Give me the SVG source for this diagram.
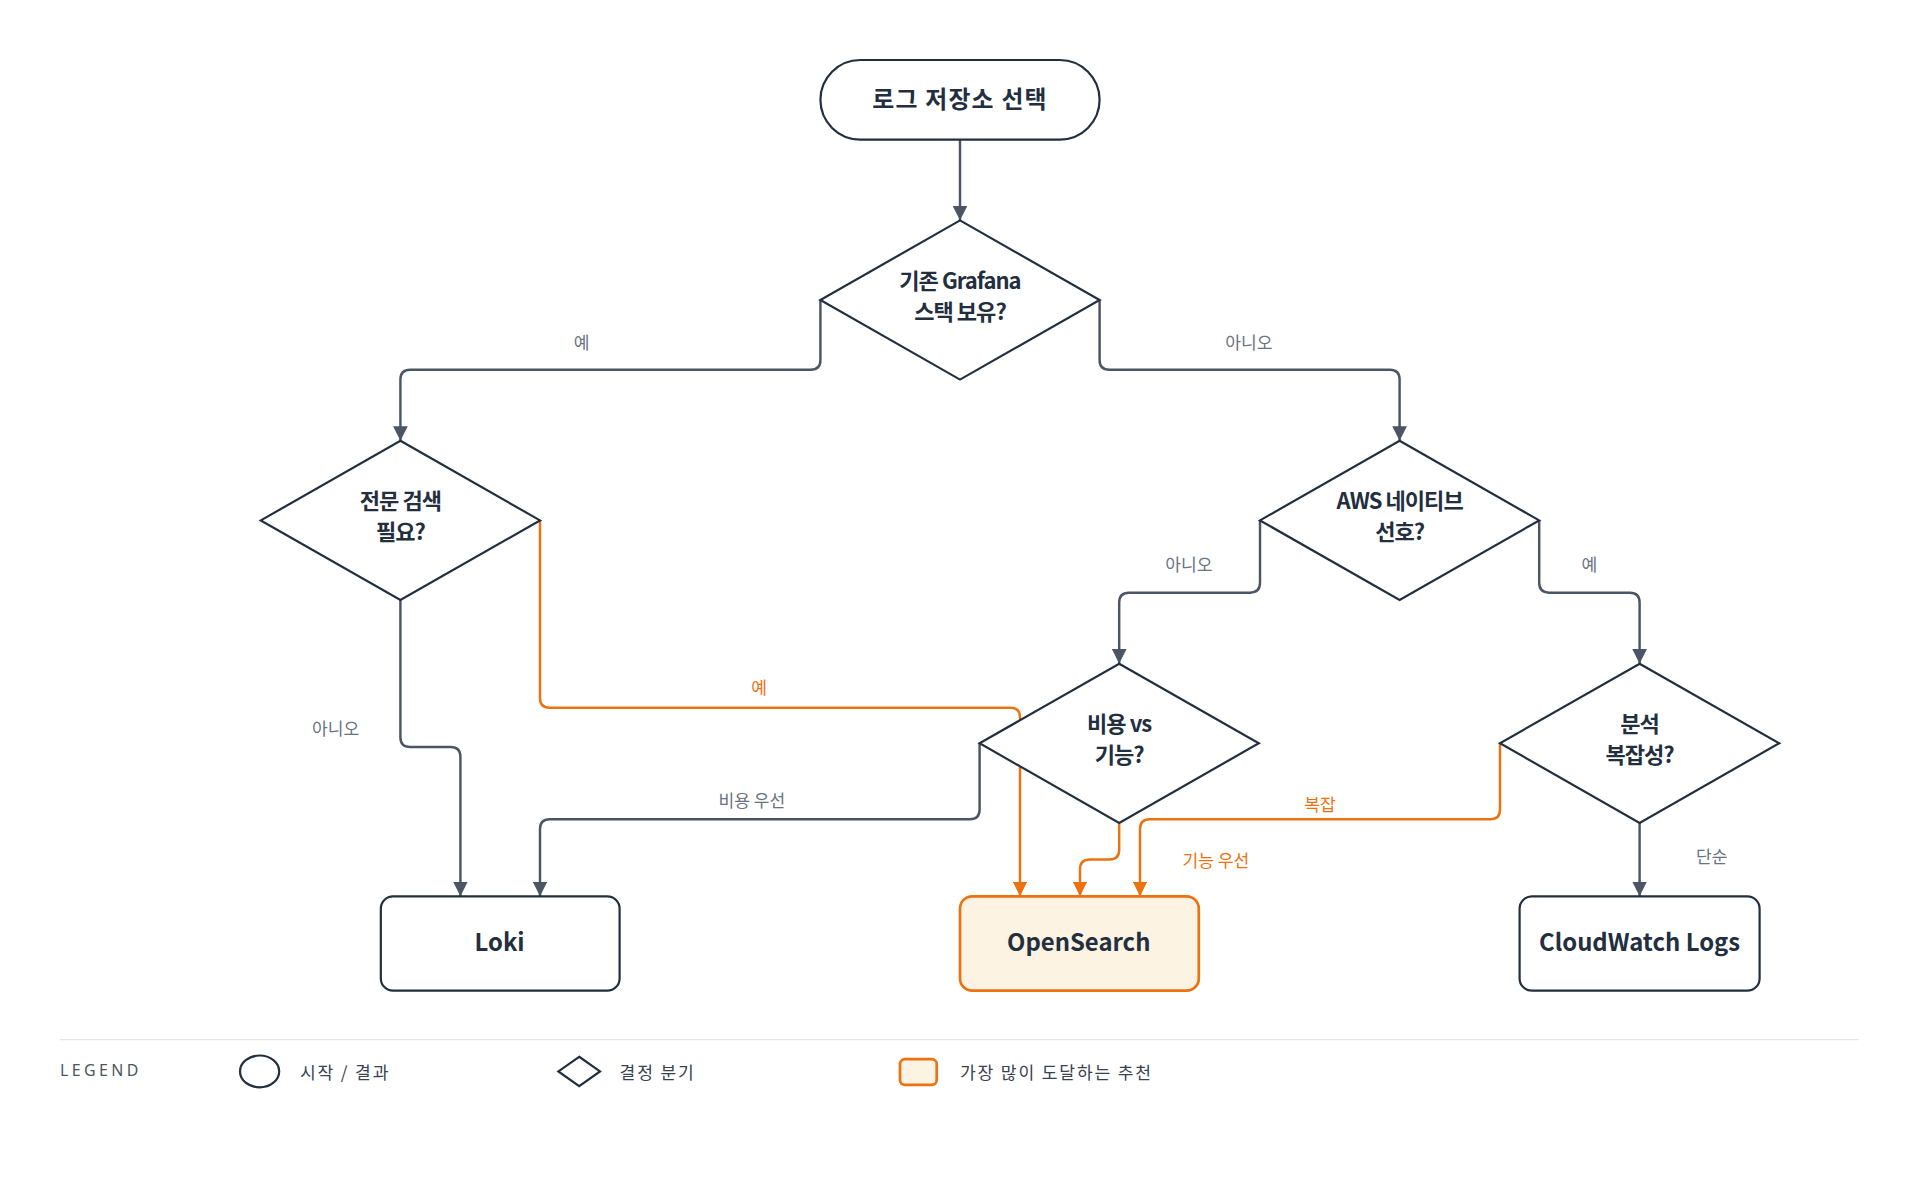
<svg xmlns="http://www.w3.org/2000/svg" width="1920" height="1200" viewBox="0 0 1920 1200">
<defs>
<style>
.n{fill:#fff;stroke:#232f3e;stroke-width:1.8}
.hl{fill:#fdf3e3;stroke:#ec7211;stroke-width:2.2}
.t{font-family:"Noto Sans CJK KR","Noto Sans",sans-serif;font-weight:700;font-size:18px;fill:#232f3e;text-anchor:middle;letter-spacing:-0.8px}
.b{font-size:19.5px;letter-spacing:0}
.c{fill:none;stroke:#4b5563;stroke-width:2}
.o{fill:none;stroke:#ec7211;stroke-width:2}
.l{font-family:"Noto Sans CJK KR","Noto Sans",sans-serif;font-size:14px;fill:#6b7280;text-anchor:middle}
.lo{fill:#ec7211}
.lg{font-family:"Noto Sans CJK KR","Noto Sans",sans-serif;font-size:14px;fill:#374151;letter-spacing:1.5px}
</style>
<marker id="ag" markerUnits="userSpaceOnUse" markerWidth="12" markerHeight="12" refX="12" refY="6" orient="auto" viewBox="0 0 12 12"><path d="M0,0 L12,6 L0,12 z" fill="#4b5563"/></marker>
<marker id="ao" markerUnits="userSpaceOnUse" markerWidth="12" markerHeight="12" refX="12" refY="6" orient="auto" viewBox="0 0 12 12"><path d="M0,0 L12,6 L0,12 z" fill="#ec7211"/></marker>
</defs>
<rect width="1920" height="1200" fill="#fff"/>
<g transform="scale(1.2245)">
<g id="connectors">
<path class="c" marker-end="url(#ag)" d="M784,114 V180"/>
<path class="c" marker-end="url(#ag)" d="M670,245 V294 Q670,302 662,302 H335 Q327,302 327,310 V360"/>
<path class="c" marker-end="url(#ag)" d="M898,245 V294 Q898,302 906,302 H1135 Q1143,302 1143,310 V360"/>
<path class="c" marker-end="url(#ag)" d="M327,490 V602 Q327,610 335,610 H368 Q376,610 376,618 V732"/>
<path class="o" marker-end="url(#ao)" d="M441,425 V570 Q441,578 449,578 H825 Q833,578 833,586 V732"/>
<path class="c" marker-end="url(#ag)" d="M1029,425 V476 Q1029,484 1021,484 H922 Q914,484 914,492 V542"/>
<path class="c" marker-end="url(#ag)" d="M1257,425 V476 Q1257,484 1265,484 H1331 Q1339,484 1339,492 V542"/>
<path class="c" marker-end="url(#ag)" d="M800,607 V661 Q800,669 792,669 H449 Q441,669 441,677 V732"/>
<path class="o" marker-end="url(#ao)" d="M914,672 V694 Q914,702 906,702 H890 Q882,702 882,710 V732"/>
<path class="o" marker-end="url(#ao)" d="M1225,607 V661 Q1225,669 1217,669 H939 Q931,669 931,677 V732"/>
<path class="c" marker-end="url(#ag)" d="M1339,672 V732"/>
<text class="l" x="475" y="285">예</text>
<text class="l" x="1020" y="285">아니오</text>
<text class="l" x="274" y="600">아니오</text>
<text class="l lo" x="620" y="567">예</text>
<text class="l" x="971" y="466">아니오</text>
<text class="l" x="1298" y="466">예</text>
<text class="l" x="614" y="659">비용 우선</text>
<text class="l lo" x="993" y="708">기능 우선</text>
<rect x="1048" y="648" width="60" height="20" fill="#fff"/>
<text class="l lo" x="1078" y="662">복잡</text>
<text class="l" x="1398" y="705">단순</text>
</g>
<g id="start"><rect class="n" x="670" y="49" width="228" height="65" rx="32.5"/><text class="t" x="784" y="88" style="font-size:19.5px;letter-spacing:1px">로그 저장소 선택</text></g>
<g id="d1"><path class="n" d="M784,180 L898,245 L784,310 L670,245 Z"/><text class="t" x="784" y="236">기존 Grafana</text><text class="t" x="784" y="261">스택 보유?</text></g>
<g id="d2"><path class="n" d="M327,360 L441,425 L327,490 L213,425 Z"/><text class="t" x="327" y="416">전문 검색</text><text class="t" x="327" y="441">필요?</text></g>
<g id="d3"><path class="n" d="M1143,360 L1257,425 L1143,490 L1029,425 Z"/><text class="t" x="1143" y="416">AWS 네이티브</text><text class="t" x="1143" y="441">선호?</text></g>
<g id="d4"><path class="n" d="M914,542 L1028,607 L914,672 L800,607 Z"/><text class="t" x="914" y="598">비용 vs</text><text class="t" x="914" y="623">기능?</text></g>
<g id="d5"><path class="n" d="M1339,542 L1453,607 L1339,672 L1225,607 Z"/><text class="t" x="1339" y="598">분석</text><text class="t" x="1339" y="623">복잡성?</text></g>
<g id="loki"><rect class="n" x="311" y="732" width="195" height="77" rx="10"/><text class="t b" x="408" y="777">Loki</text></g>
<g id="opensearch"><rect class="hl" x="784" y="732" width="195" height="77" rx="10"/><text class="t b" x="881" y="777">OpenSearch</text></g>
<g id="cloudwatch"><rect class="n" x="1241" y="732" width="196" height="77" rx="10"/><text class="t b" x="1339" y="777">CloudWatch Logs</text></g>
<g id="legend">
<line x1="49" y1="849" x2="1518" y2="849" stroke="#e5e7eb" stroke-width="1"/>
<text x="49" y="879" font-family="Noto Sans, sans-serif" font-size="13" fill="#4b5563" letter-spacing="2.8">LEGEND</text>
<ellipse class="n" cx="212" cy="875" rx="16" ry="13"/>
<text class="lg" x="245" y="881">시작 / 결과</text>
<path class="n" d="M473,863 L490,875 L473,887 L456,875 Z"/>
<text class="lg" x="506" y="881">결정 분기</text>
<rect class="hl" x="735" y="865" width="30" height="21" rx="4"/>
<text class="lg" x="784" y="881">가장 많이 도달하는 추천</text>
</g>
</g>
</svg>
